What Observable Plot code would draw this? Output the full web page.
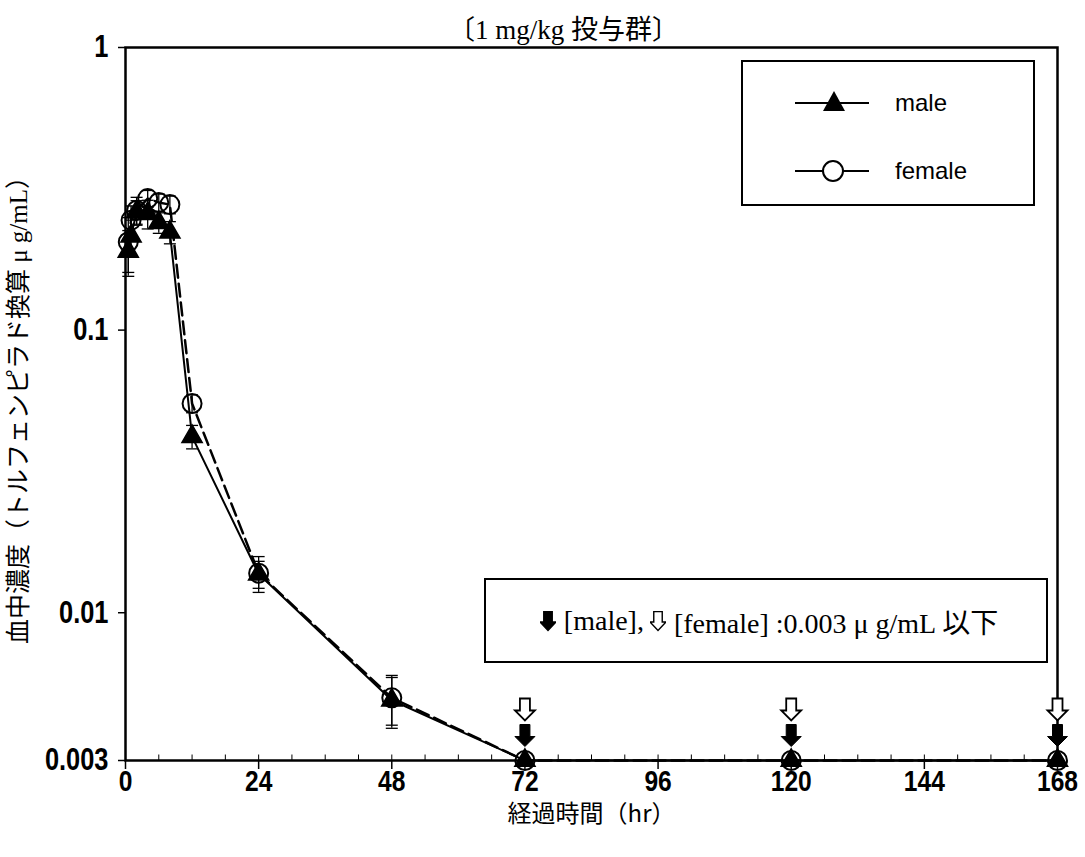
<!DOCTYPE html>
<html>
<head>
<meta charset="utf-8">
<script src="https://cdn.jsdelivr.net/npm/d3@7"></script>
<script src="https://cdn.jsdelivr.net/npm/@observablehq/plot@0.6"></script>
<style>
  html, body { margin: 0; padding: 0; background: #fff; }
  #wrap { position: relative; width: 1085px; height: 857px; }
  .box { position: absolute; border: 2px solid #000; background: #fff; box-sizing: border-box; }
  #legend { left: 741px; top: 60px; width: 294px; height: 146px; }
  #note { left: 484px; top: 578px; width: 564px; height: 85px;
          font-family: "Liberation Serif", "Noto Sans CJK JP", serif; font-size: 28px;
          display: flex; align-items: center; justify-content: center; white-space: nowrap; }
  #note svg { vertical-align: middle; margin: 0 8px 0 6px; }
</style>
</head>
<body>
<div id="wrap"></div>
<script>
// ---- data ----
const times      = [0.5, 1, 2, 4, 6, 8, 12, 24, 48, 72, 120, 168];
const maleConc   = [0.19, 0.215, 0.262, 0.258, 0.24, 0.222, 0.042, 0.0137, 0.0049, 0.003, 0.003, 0.003];
const maleSD     = [0.035, 0.03, 0.025, 0.03, 0.02, 0.02, 0.004, 0.0015, 0.001, 0, 0, 0];
const femaleConc = [0.205, 0.245, 0.265, 0.292, 0.283, 0.278, 0.055, 0.0138, 0.0050, 0.003, 0.003, 0.003];
const femaleSD   = [0.045, 0.03, 0.03, 0.02, 0.02, 0.02, 0.004, 0.002, 0.001, 0, 0, 0];
const bloqTimes  = [72, 120, 168];
const lloq       = 0.003;
const xTicks     = [0, 24, 48, 72, 96, 120, 144, 168];
const xMinorTicks = d3.range(0, 169, 6);
const yTicks     = [0.003, 0.01, 0.1, 1];
const titleText  = "〔1 mg/kg 投与群〕";
const xLabel     = "経過時間（hr）";
const yLabel     = "血中濃度（トルフェンピラド換算 μ g/mL）";

const male = times.map((t, i) => ({t, c: maleConc[i], sd: maleSD[i]}));
const female = times.map((t, i) => ({t, c: femaleConc[i], sd: femaleSD[i]}));
const errs = [...male, ...female].filter(d => d.sd > 0);

// custom symbols
const capSym = {draw(ctx) { ctx.moveTo(-6, 0); ctx.lineTo(6, 0); }};
const minorTickSym = {draw(ctx) { ctx.moveTo(0, 0); ctx.lineTo(0, -6); }};
const arrowSym = {draw(ctx) {
  ctx.moveTo(-5, -22); ctx.lineTo(5, -22); ctx.lineTo(5, -10); ctx.lineTo(10, -10);
  ctx.lineTo(0, 0); ctx.lineTo(-10, -10); ctx.lineTo(-5, -10); ctx.closePath();
}};

const tickFont = '"Liberation Sans", Arial, sans-serif';

const chart = Plot.plot({
  width: 1085, height: 857,
  marginTop: 47, marginLeft: 125, marginRight: 28, marginBottom: 97,
  style: {background: "#fff", color: "#000"},
  x: {domain: [0, 168], label: null},
  y: {type: "log", domain: [lloq, 1], label: null},
  marks: [
    Plot.axisX({ticks: xTicks, tickSize: 9, tickPadding: 0, fontSize: 30, fontFamily: tickFont, fontWeight: "bold", strokeWidth: 1.5, label: null}),
    Plot.axisY({ticks: yTicks, tickFormat: d => String(d), tickSize: 7, tickPadding: 10, fontSize: 31, fontFamily: tickFont, fontWeight: "bold", strokeWidth: 1.5, label: null}),
    Plot.dot(xMinorTicks, {x: d => d, y: () => lloq, symbol: minorTickSym, stroke: "#000", strokeWidth: 1}),
    Plot.frame({stroke: "#000", strokeWidth: 2.5}),
    // error bars
    Plot.ruleX(errs, {x: "t", y1: d => d.c - d.sd, y2: d => d.c + d.sd, stroke: "#000", strokeWidth: 1.3}),
    Plot.dot(errs, {x: "t", y: d => d.c - d.sd, symbol: capSym, stroke: "#000", strokeWidth: 1.3}),
    Plot.dot(errs, {x: "t", y: d => d.c + d.sd, symbol: capSym, stroke: "#000", strokeWidth: 1.3}),
    // lines
    Plot.line(male, {x: "t", y: "c", stroke: "#000", strokeWidth: 2}),
    Plot.line(female, {x: "t", y: "c", stroke: "#000", strokeWidth: 2.5, strokeDasharray: "13,6"}),
    // markers
    Plot.dot(male, {x: "t", y: "c", symbol: "triangle", r: 7.5, fill: "#000", stroke: "#000"}),
    Plot.dot(female, {x: "t", y: "c", symbol: "circle", r: 9.5, fill: "none", stroke: "#000", strokeWidth: 2}),
    // below-LOQ arrows
    Plot.dot(bloqTimes, {x: d => d, y: () => lloq, dy: -14, symbol: arrowSym, fill: "#000", stroke: "#000", strokeWidth: 1}),
    Plot.dot(bloqTimes, {x: d => d, y: () => lloq, dy: -40, symbol: arrowSym, fill: "#fff", stroke: "#000", strokeWidth: 1.8}),
    // texts
    Plot.text([titleText], {frameAnchor: "top", dx: -28, dy: -28, fontSize: 27, fontFamily: '"Liberation Serif", "Noto Sans CJK JP", serif', fill: "#000"}),
    Plot.text([xLabel], {frameAnchor: "bottom", lineAnchor: "middle", dy: 54, fontSize: 24, letterSpacing: 1, fontFamily: '"Noto Sans CJK JP", serif', fill: "#000"}),
    Plot.text([yLabel], {frameAnchor: "left", textAnchor: "middle", dx: -107, rotate: -90, fontSize: 25, letterSpacing: 3, fontFamily: '"Liberation Serif", "Noto Sans CJK JP", serif', fill: "#000"})
  ]
});

// condense tick labels (narrow face look)
chart.querySelectorAll('g[aria-label$="tick label"] text').forEach(t => {
  const tr = t.getAttribute("transform") || "";
  t.setAttribute("transform", tr + " scale(0.82,1)");
});

const wrap = document.getElementById("wrap");
wrap.appendChild(chart);

// legend
const legend = document.createElement("div");
legend.className = "box";
legend.id = "legend";
legend.innerHTML = `
<svg width="290" height="142" style="position:absolute;left:0;top:0">
  <line x1="52" y1="41" x2="126" y2="41" stroke="#000" stroke-width="2"/>
  <path d="M91,29 L102,49 L80,49 Z" fill="#000"/>
  <text x="152" y="49" font-family="Liberation Sans, Arial, sans-serif" font-size="24" fill="#000">male</text>
  <line x1="52" y1="109" x2="126" y2="109" stroke="#000" stroke-width="2"/>
  <circle cx="90" cy="109" r="10" fill="#fff" stroke="#000" stroke-width="2"/>
  <text x="152" y="117" font-family="Liberation Sans, Arial, sans-serif" font-size="24" fill="#000">female</text>
</svg>`;
wrap.appendChild(legend);

// note box
const arrowSvg = (fill) => `<svg width="16" height="22" viewBox="-8.5 -21 17 22"><path d="M-4.5,-20 L4.5,-20 L4.5,-9 L8.5,-9 L0,0 L-8.5,-9 L-4.5,-9 Z" fill="${fill}" stroke="#000" stroke-width="1.5"/></svg>`;
const note = document.createElement("div");
note.className = "box";
note.id = "note";
note.innerHTML = `${arrowSvg("#000")}<span>[male],</span>${arrowSvg("#fff")}<span>[female] :0.003 μ g/mL 以下</span>`;
wrap.appendChild(note);
</script>
</body>
</html>
